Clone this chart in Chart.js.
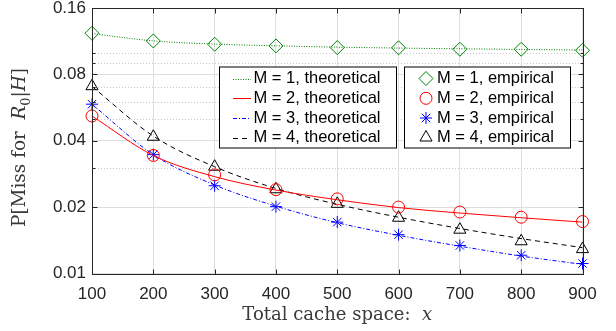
<!DOCTYPE html>
<html>
<head>
<meta charset="utf-8">
<script src="https://cdn.jsdelivr.net/npm/chart.js@4/dist/chart.umd.min.js"></script>
<style>
  html, body { margin: 0; padding: 0; background: #fff; }
  #wrap { width: 616px; height: 331px; }
</style>
</head>
<body>
<div id="wrap"><canvas id="miss-chart" width="616" height="331"></canvas></div>
<script>
// Cache sizes on the x axis
const xValues = [100, 200, 300, 400, 500, 600, 700, 800, 900];

// Log axis ticks
const yTickValues = [0.01, 0.02, 0.04, 0.08, 0.16];
const yMinorValues = [0.03, 0.05, 0.06, 0.07, 0.09, 0.1];

// Theoretical miss probability (lines)
const theoryM1 = [0.1225, 0.1135, 0.1098, 0.1078, 0.1063, 0.1053, 0.1045, 0.1038, 0.1032];
const theoryM2 = [0.0518, 0.0343, 0.0275, 0.0239, 0.0216, 0.0199, 0.0188, 0.0179, 0.0171];
const theoryM3 = [0.0586, 0.0346, 0.0252, 0.0202, 0.0170, 0.0149, 0.0133, 0.0120, 0.0110];
const theoryM4 = [0.0705, 0.0420, 0.0305, 0.0243, 0.0206, 0.0180, 0.0160, 0.0144, 0.0131];

// Empirical miss probability (markers)
const empiricalM1 = [0.1229, 0.1134, 0.1096, 0.1077, 0.1058, 0.1056, 0.1040, 0.1040, 0.1029];
const empiricalM2 = [0.0518, 0.0343, 0.0280, 0.0240, 0.0218, 0.0200, 0.0190, 0.0180, 0.0172];
const empiricalM3 = [0.0586, 0.0346, 0.0250, 0.0201, 0.0171, 0.0150, 0.0134, 0.0121, 0.0111];
const empiricalM4 = [0.0707, 0.0417, 0.0305, 0.0241, 0.0207, 0.0179, 0.0158, 0.0140, 0.0129];

const seriesLabels = ['M = 1', 'M = 2', 'M = 3', 'M = 4'];
const seriesColors = ['rgb(0,128,0)', 'rgb(255,0,0)', 'rgb(0,0,255)', 'rgb(0,0,0)'];
const lineDashes = [[1, 1.5], [], [4, 2, 1, 2], [5, 4]];
const markerStyles = ['rectRot', 'circle', 'star', 'triangle'];
const markerSizes = [7, 6, 6, 7];

const theorySeries = [theoryM1, theoryM2, theoryM3, theoryM4];
const empiricalSeries = [empiricalM1, empiricalM2, empiricalM3, empiricalM4];

const AXIS_COLOR = '#262626';
const LEGEND_FONT = '16.5px "Liberation Sans", Arial, Helvetica, sans-serif';
const TITLE_FAMILY = '"DejaVu Serif", "Liberation Serif", serif';

function toPoints(values) {
    return xValues.map((x, i) => ({ x: x, y: values[i] }));
}

const datasets = [];
theorySeries.forEach((values, i) => {
    datasets.push({
        label: seriesLabels[i] + ', theoretical',
        data: toPoints(values),
        borderColor: seriesColors[i],
        borderWidth: 1,
        borderDash: lineDashes[i],
        pointRadius: 0,
        cubicInterpolationMode: 'monotone',
        fill: false
    });
});
empiricalSeries.forEach((values, i) => {
    datasets.push({
        label: seriesLabels[i] + ', empirical',
        data: toPoints(values),
        showLine: false,
        clip: false,
        borderColor: seriesColors[i],
        backgroundColor: 'rgba(0,0,0,0)',
        pointStyle: markerStyles[i],
        pointRadius: markerSizes[i],
        pointBorderWidth: 1,
        pointBorderColor: seriesColors[i],
        pointBackgroundColor: 'rgba(0,0,0,0)'
    });
});

/**
 * Draw a line of text made of roman / italic / subscript pieces,
 * centred on cx with its baseline on y, stretched to a given width
 */
function drawRichText(ctx, parts, cx, y, size, targetWidth) {
    const fontFor = p => (p.italic ? 'italic ' : '') + (p.sub ? size * 0.7 : size) + 'px ' + TITLE_FAMILY;
    let total = 0;
    parts.forEach(p => {
        ctx.font = fontFor(p);
        p.w = ctx.measureText(p.t).width;
        total += p.w;
    });
    ctx.save();
    ctx.translate(cx, y);
    ctx.scale(targetWidth / total, 1);
    ctx.textAlign = 'left';
    ctx.textBaseline = 'alphabetic';
    let x = -total / 2;
    parts.forEach(p => {
        ctx.font = fontFor(p);
        ctx.fillText(p.t, x, p.sub ? size * 0.25 : 0);
        x += p.w;
    });
    ctx.restore();
}

// Legend layout (two boxed columns, as in the MATLAB figure)
const legendRows = [78.5, 98.3, 118, 137.5];
const theoryBox = { x: 219, y: 66.5, w: 177, h: 81 };
const empiricalBox = { x: 404, y: 66.5, w: 166, h: 81 };

function drawMarker(ctx, style, x, y, r, color) {
    ctx.save();
    ctx.strokeStyle = color;
    ctx.fillStyle = 'rgba(0,0,0,0)';
    ctx.lineWidth = 1;
    Chart.helpers.drawPoint(ctx, { pointStyle: style, radius: r, rotation: 0, borderWidth: 1 }, x, y);
    ctx.restore();
}

function drawLegend(ctx) {
    ctx.save();
    [theoryBox, empiricalBox].forEach(b => {
        ctx.fillStyle = '#fff';
        ctx.fillRect(b.x, b.y, b.w, b.h);
        ctx.strokeStyle = '#000';
        ctx.lineWidth = 1;
        ctx.strokeRect(b.x + 0.5, b.y + 0.5, b.w, b.h);
    });
    ctx.font = LEGEND_FONT;
    ctx.textBaseline = 'middle';
    ctx.textAlign = 'left';
    seriesLabels.forEach((label, i) => {
        const y = legendRows[i];
        // line sample
        ctx.save();
        ctx.strokeStyle = seriesColors[i];
        ctx.lineWidth = 1;
        ctx.setLineDash(lineDashes[i]);
        ctx.beginPath();
        ctx.moveTo(233, Math.round(y) + 0.5);
        ctx.lineTo(251, Math.round(y) + 0.5);
        ctx.stroke();
        ctx.restore();
        ctx.fillStyle = '#000';
        ctx.fillText(label + ', theoretical', 253.5, y);
        // marker sample
        drawMarker(ctx, markerStyles[i], 426, y, markerSizes[i], seriesColors[i]);
        ctx.fillStyle = '#000';
        ctx.fillText(label + ', empirical', 437, y);
    });
    ctx.restore();
}

const matlabAxes = {
    id: 'matlabAxes',
    beforeDatasetsDraw(chart) {
        // dotted minor grid on the log axis
        const { ctx, chartArea: a, scales: { y } } = chart;
        ctx.save();
        ctx.strokeStyle = '#c8c8c8';
        ctx.lineWidth = 1;
        ctx.setLineDash([1, 2]);
        yMinorValues.forEach(v => {
            const py = Math.round(y.getPixelForValue(v)) + 0.5;
            ctx.beginPath();
            ctx.moveTo(a.left, py);
            ctx.lineTo(a.right, py);
            ctx.stroke();
        });
        ctx.restore();
    },
    afterDatasetsDraw(chart) {
        const { ctx, chartArea: a, scales: { x, y } } = chart;
        const left = Math.round(a.left) + 0.5;
        const right = Math.round(a.right) + 0.5;
        const top = Math.round(a.top) + 0.5;
        const bottom = Math.round(a.bottom) + 0.5;
        ctx.save();
        ctx.strokeStyle = AXIS_COLOR;
        ctx.lineWidth = 1;
        // inward tick marks
        ctx.beginPath();
        xValues.forEach(v => {
            const px = Math.round(x.getPixelForValue(v)) + 0.5;
            ctx.moveTo(px, bottom); ctx.lineTo(px, bottom - 5);
            ctx.moveTo(px, top); ctx.lineTo(px, top + 5);
        });
        yTickValues.forEach(v => {
            const py = Math.round(y.getPixelForValue(v)) + 0.5;
            ctx.moveTo(left, py); ctx.lineTo(left + 5, py);
            ctx.moveTo(right, py); ctx.lineTo(right - 5, py);
        });
        yMinorValues.forEach(v => {
            const py = Math.round(y.getPixelForValue(v)) + 0.5;
            ctx.moveTo(left, py); ctx.lineTo(left + 3, py);
            ctx.moveTo(right, py); ctx.lineTo(right - 3, py);
        });
        ctx.stroke();
        // box
        ctx.strokeRect(left, top, right - left, bottom - top);
        ctx.restore();
        drawLegend(ctx);
    },
    afterDraw(chart) {
        const { ctx, chartArea: a } = chart;
        ctx.save();
        ctx.fillStyle = '#3a3a3a';
        drawRichText(ctx, [
            { t: 'Total cache space:  ' },
            { t: 'x', italic: true }
        ], (a.left + a.right) / 2, 320, 18, 190);
        ctx.translate(25, 147.5);
        ctx.rotate(-Math.PI / 2);
        drawRichText(ctx, [
            { t: 'P[Miss for  ' },
            { t: 'R', italic: true },
            { t: '0', sub: true },
            { t: '|' },
            { t: 'H', italic: true },
            { t: ']' }
        ], 0, 0, 18, 159);
        ctx.restore();
    }
};

const missChart = new Chart(document.getElementById('miss-chart'), {
    type: 'line',
    data: { datasets: datasets },
    options: {
        responsive: false,
        animation: false,
        devicePixelRatio: 1,
        layout: { padding: { left: 0, top: 6.5, right: 33.5, bottom: 0 } },
        scales: {
            x: {
                type: 'linear',
                min: 100,
                max: 900,
                ticks: {
                    stepSize: 100,
                    font: { family: '"Liberation Sans", Arial, Helvetica, sans-serif', size: 17 },
                    color: AXIS_COLOR,
                    padding: 11,
                    maxRotation: 0
                },
                grid: { color: '#dedede', drawTicks: false },
                border: { display: false },
                afterFit(scale) {
                    scale.height = 57.5;
                    scale.paddingLeft = 0;
                    scale.paddingRight = 0;
                }
            },
            y: {
                type: 'logarithmic',
                min: 0.01,
                max: 0.16,
                afterBuildTicks(scale) {
                    scale.ticks = yTickValues.map(v => ({ value: v, major: false }));
                },
                ticks: {
                    font: { family: '"Liberation Sans", Arial, Helvetica, sans-serif', size: 17 },
                    color: AXIS_COLOR,
                    padding: 6,
                    callback: value => Number(value).toFixed(2)
                },
                grid: { color: '#dedede', drawTicks: false },
                border: { display: false },
                afterFit(scale) {
                    scale.width = 92;
                    scale.paddingTop = 0;
                    scale.paddingBottom = 0;
                }
            }
        },
        plugins: {
            legend: { display: false },
            tooltip: { enabled: false }
        }
    },
    plugins: [matlabAxes]
});
</script>
</body>
</html>
